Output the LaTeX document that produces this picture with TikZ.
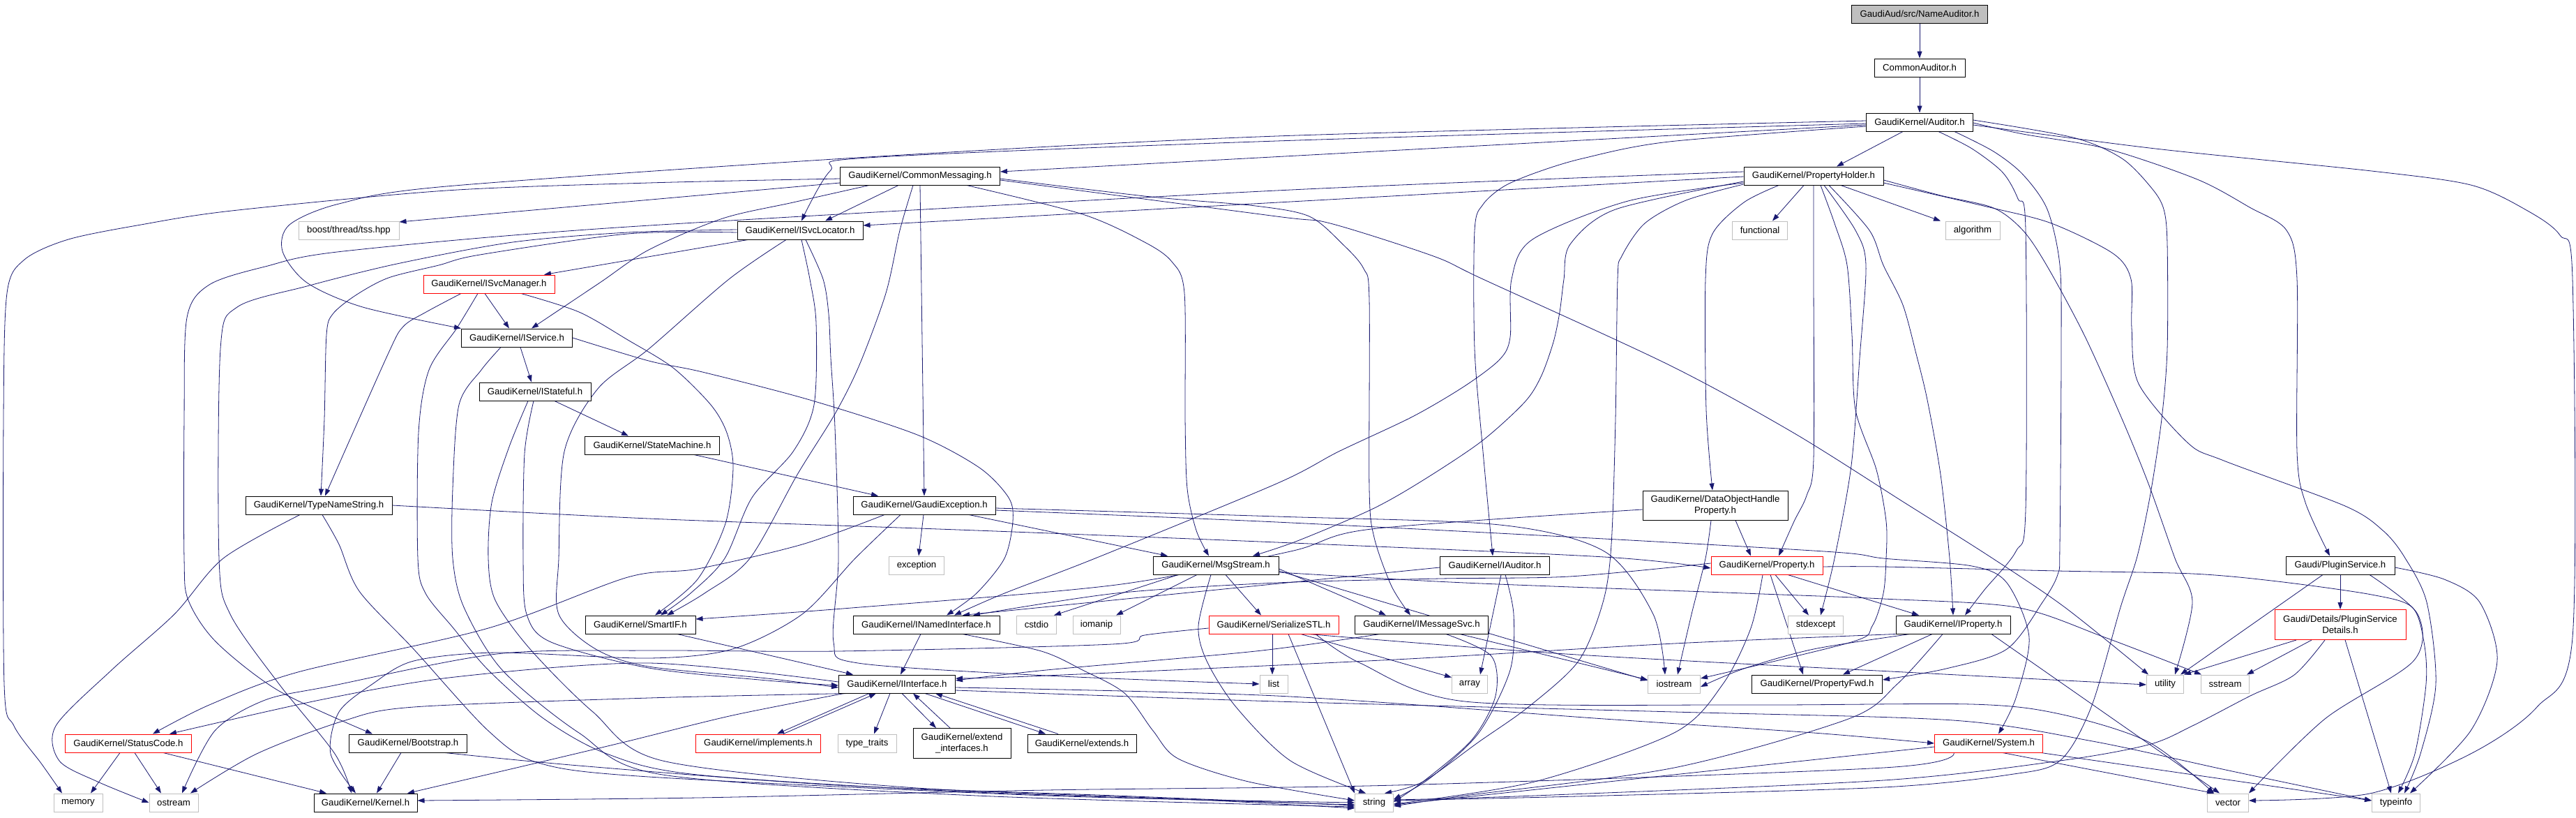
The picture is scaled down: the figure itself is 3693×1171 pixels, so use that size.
\documentclass[tikz,border=0pt]{standalone}
\usepackage{fontspec}
\setmainfont{Liberation Sans}
\usetikzlibrary{arrows.meta}
\definecolor{edgec}{RGB}{25,25,112}
\definecolor{grayb}{RGB}{191,191,191}
\pgfdeclarelayer{bg}
\pgfdeclarelayer{paper}
\pgfsetlayers{paper,bg,main}
\begin{document}
\begin{tikzpicture}[x=1pt,y=-1pt,
 box/.style={draw=black,line width=1pt,inner sep=0pt,minimum height=26pt,align=center,fill=white,font=\fontsize{13.2pt}{15.5pt}\selectfont},
 rbox/.style={box,draw=red},
 gbox/.style={box,draw=grayb},
 edge/.style={draw=edgec,line width=0.8pt,-{Triangle[length=10pt,width=7pt]}},
 sm/.style={smooth,tension=0.5}]
\useasboundingbox (0,0) rectangle (3693,1171);
\begin{pgfonlayer}{paper}
\fill[white] (0,0) rectangle (3693,1171);
\end{pgfonlayer}
% nodes
\node[box,fill=grayb,minimum width=195pt] (nameaud) at (2752,20) {GaudiAud/src/NameAuditor.h};
\node[box,minimum width=130pt] (commonaud) at (2752,97) {CommonAuditor.h};
\node[box,minimum width=153pt] (auditor) at (2752,175) {GaudiKernel/Auditor.h};
\node[box,minimum width=229pt] (commsg) at (1319,252) {GaudiKernel/CommonMessaging.h};
\node[box,minimum width=200pt] (propholder) at (2600,252) {GaudiKernel/PropertyHolder.h};
\node[gbox,minimum width=144pt] (boost) at (500,330) {boost/thread/tss.hpp};
\node[box,minimum width=180pt] (isvcloc) at (1147,330) {GaudiKernel/ISvcLocator.h};
\node[gbox,minimum width=79pt] (functional) at (2523,330) {functional};
\node[gbox,minimum width=78pt] (algorithm) at (2828,330) {algorithm};
\node[rbox,minimum width=188pt] (isvcmgr) at (701,407) {GaudiKernel/ISvcManager.h};
\node[box,minimum width=159pt] (iservice) at (741,484) {GaudiKernel/IService.h};
\node[box,minimum width=160pt] (istateful) at (767,561) {GaudiKernel/IStateful.h};
\node[box,minimum width=193pt] (statemachine) at (935,638) {GaudiKernel/StateMachine.h};
\node[box,minimum width=210pt] (typename) at (457,724) {GaudiKernel/TypeNameString.h};
\node[box,minimum width=204pt] (gaudiexc) at (1325,724) {GaudiKernel/GaudiException.h};
\node[box,minimum width=208pt,minimum height=42pt] (dohp) at (2459,724) {GaudiKernel/DataObjectHandle\\Property.h};
\node[box,minimum width=157pt] (iauditor) at (2143,810) {GaudiKernel/IAuditor.h};
\node[rbox,minimum width=160pt] (property) at (2533,810) {GaudiKernel/Property.h};
\node[box,minimum width=156pt] (pluginsvc) at (3355,810) {Gaudi/PluginService.h};
\node[box,minimum width=180pt] (msgstream) at (1743,810) {GaudiKernel/MsgStream.h};
\node[gbox,minimum width=79pt] (exception) at (1314,810) {exception};
\node[box,minimum width=158pt] (smartif) at (918,895) {GaudiKernel/SmartIF.h};
\node[box,minimum width=210pt] (inamed) at (1328,895) {GaudiKernel/INamedInterface.h};
\node[gbox,minimum width=57pt] (cstdio) at (1486,895) {cstdio};
\node[gbox,minimum width=68pt] (iomanip) at (1572,895) {iomanip};
\node[rbox,minimum width=186pt] (serialize) at (1826,895) {GaudiKernel/SerializeSTL.h};
\node[box,minimum width=191pt] (imsgsvc) at (2038,895) {GaudiKernel/IMessageSvc.h};
\node[gbox,minimum width=79pt] (stdexcept) at (2603,895) {stdexcept};
\node[box,minimum width=164pt] (iproperty) at (2800,895) {GaudiKernel/IProperty.h};
\node[rbox,minimum width=188pt,minimum height=43pt] (psdetails) at (3355,895) {Gaudi/Details/PluginService\\Details.h};
\node[box,minimum width=167pt] (iinterface) at (1286,980) {GaudiKernel/IInterface.h};
\node[gbox,minimum width=40pt] (list) at (1826,980) {list};
\node[gbox,minimum width=51pt] (array) at (2107,980) {array};
\node[gbox,minimum width=75pt] (iostream) at (2400,980) {iostream};
\node[box,minimum width=187pt] (propfwd) at (2605,980) {GaudiKernel/PropertyFwd.h};
\node[gbox,minimum width=53pt] (utility) at (3104,980) {utility};
\node[gbox,minimum width=69pt] (sstream) at (3190,980) {sstream};
\node[rbox,minimum width=181pt] (statuscode) at (184,1065) {GaudiKernel/StatusCode.h};
\node[box,minimum width=169pt] (bootstrap) at (585,1065) {GaudiKernel/Bootstrap.h};
\node[rbox,minimum width=179pt] (implements) at (1087,1065) {GaudiKernel/implements.h};
\node[gbox,minimum width=84pt] (typetraits) at (1243,1065) {type\_traits};
\node[box,minimum width=140pt,minimum height=43pt] (extendif) at (1379,1065) {GaudiKernel/extend\\\_interfaces.h};
\node[box,minimum width=156pt] (extends) at (1551,1065) {GaudiKernel/extends.h};
\node[rbox,minimum width=155pt] (system) at (2851,1065) {GaudiKernel/System.h};
\node[gbox,minimum width=70pt] (memory) at (112,1150) {memory};
\node[gbox,minimum width=70pt] (ostream) at (249,1150) {ostream};
\node[box,minimum width=148pt] (kernel) at (524,1150) {GaudiKernel/Kernel.h};
\node[gbox,minimum width=55pt] (string) at (1970,1150) {string};
\node[gbox,minimum width=59pt] (vector) at (3194,1150) {vector};
\node[gbox,minimum width=69pt] (typeinfo) at (3435,1150) {typeinfo};
% edges
\begin{pgfonlayer}{bg}
\draw[edge] (nameaud) -- (commonaud);
\draw[edge] (commonaud) -- (auditor);
% Auditor
\draw[edge] ([yshift=-4pt]auditor.west) -- ([yshift=6pt]commsg.east);
\draw[edge] ([xshift=-24pt]auditor.south) -- ([xshift=33pt]propholder.north);
\draw[edge] plot[sm] coordinates {([yshift=-2pt]auditor.west) (1830,202) (1244,226) (1190,245) ([xshift=2pt]isvcloc.north)};
\draw[edge] plot[sm] coordinates {([yshift=2pt]auditor.west) (1830,195) (1244,225) (640,267) (486,292) (415,322) (405,360) (440,405) (520,440) (iservice.north west)};
\draw[edge] plot[sm] coordinates {([yshift=-6pt]auditor.west) (2393,203) (2269,227) (2203,247) (2156,267) (2126,293) (2114,330) (2114,500) (2126,647) ([xshift=-3pt]iauditor.north)};
\draw[edge] plot[sm] coordinates {([xshift=27pt]auditor.south) (2827,213) (2871,247) (2893,285) (2904,330) (2904,730) (2890,790) (2845,845) ([xshift=17pt]iproperty.north)};
\draw[edge] plot[sm] coordinates {([xshift=50pt]auditor.south) (2858,217) (2900,250) (2935,300) (2953,380) (2955,500) (2953,780) (2950,823) (2928,863) (2877,930) (2790,958) ([yshift=6pt]propfwd.east)};
\draw[edge] plot[sm] coordinates {([yshift=3pt]auditor.east) (2972,197) (3042,227) (3085,270) (3102,300) (3107,350) (3107,500) (3099,600) (3083,707) (3064,797) (3040,870) (2998,1013) (2953,1090) (2880,1110) (2700,1128) (2300,1140) ([yshift=3pt]string.east)};
\draw[edge] plot[sm] coordinates {([yshift=-1pt]auditor.east) (2900,192) (3020,213) (3150,257) (3225,297) (3278,330) (3293,400) (3293,647) (3305,720) ([xshift=-15pt]pluginsvc.north)};
\draw[edge] plot[sm] coordinates {([yshift=-4pt]auditor.east) (3090,213) (3400,245) (3542,265) (3620,300) (3670,337) (3688,400) (3688,913) (3637,1013) (3542,1080) (3397,1137) ([yshift=3pt]vector.east)};
% CommonMessaging
\draw[edge] ([yshift=-10pt]commsg.west) -- ([yshift=12pt]boost.east);
\draw[edge] plot[sm] coordinates {([yshift=-4pt]commsg.west) (930,262) (640,273) (332,302) (202,322) (98,343) (35,372) (10,420) (5,600) (6,980) (20,1040) (60,1095) ([xshift=-23pt]memory.north)};
\draw[edge] ([xshift=-31pt]commsg.south) -- ([xshift=36pt]isvcloc.north);
\draw[edge] plot[sm] coordinates {([xshift=-73pt]commsg.south) (1137,290) (1036,313) (930,358) (860,405) ([xshift=21pt]iservice.north)};
\draw[edge] plot[sm] coordinates {([xshift=-10pt]commsg.south) (1290,330) (1270,420) (1232,523) (1197,593) (1143,680) (1075,800) (1010,850) ([xshift=38pt]smartif.north)};
\draw[edge] (commsg.south) -- (gaudiexc.north);
\draw[edge] plot[sm] coordinates {([xshift=67pt]commsg.south) (1552,307) (1641,347) (1680,375) (1698,420) (1699,600) (1702,700) (1715,760) ([xshift=-10pt]msgstream.north)};
\draw[edge] plot[sm] coordinates {([yshift=-4pt]commsg.east) (1650,282) (1800,295) (1877,310) (1925,350) (1955,385) (1963,430) (1963,700) (1970,770) (1995,840) ([xshift=-16pt]imsgsvc.north)};
\draw[edge] plot[sm] coordinates {([yshift=-6pt]commsg.east) (1830,310) (1907,320) (2055,367) (2126,400) (2393,523) (2571,620) (2730,720) (2852,797) (2960,870) ([xshift=-24pt]utility.north)};
% PropertyHolder
\draw[edge] ([yshift=-1pt]propholder.west) -- ([yshift=7pt]isvcloc.east);
\draw[edge] plot[sm] coordinates {([yshift=6pt]propholder.west) (1830,273) (900,325) (492,360) (380,382) (300,408) (268,455) (264,600) (264,800) (270,860) (310,920) (400,990) ([xshift=-51pt]bootstrap.north)};
\draw[edge] ([xshift=-14pt]propholder.south) -- ([xshift=18pt]functional.north);
\draw[edge] ([xshift=39pt]propholder.south) -- ([xshift=-46pt]algorithm.north);
\draw[edge] plot[sm] coordinates {([yshift=-10pt]propholder.west) (2334,288) (2197,343) (2167,400) (2165,483) (2150,515) (2100,553) (2025,597) (1919,647) (1830,693) (1570,800) (1440,850) ([xshift=40pt]inamed.north)};
\draw[edge] plot[sm] coordinates {([yshift=-8pt]propholder.west) (2316,300) (2251,350) (2242,400) (2236,447) (2227,490) (2209,540) (2185,577) (2123,633) (2037,690) (1966,730) (1860,775) ([xshift=53pt]msgstream.north)};
\draw[edge] plot[sm] coordinates {([xshift=-50pt]propholder.south) (2500,290) (2455,335) (2445,400) (2446,587) ([xshift=-4pt]dohp.north)};
\draw[edge] plot[sm] coordinates {(propholder.south) (2600,400) (2600,657) (2590,710) (2572,747) ([xshift=17pt]property.north)};
\draw[edge] plot[sm] coordinates {([xshift=10pt]propholder.south) (2630,320) (2648,380) (2655,480) (2660,587) (2690,673) (2704,747) (2704,800) (2700,850) (2684,897) (2654,920) ([yshift=8pt]iostream.east)};
\draw[edge] plot[sm] coordinates {([xshift=15pt]propholder.south) (2660,330) (2675,380) (2666,513) (2654,667) (2630,800) ([xshift=7pt]stdexcept.north)};
\draw[edge] plot[sm] coordinates {([xshift=22pt]propholder.south) (2680,330) (2700,380) (2728,437) (2747,507) (2763,573) (2782,680) (2795,800) (iproperty.north)};
\draw[edge] plot[sm] coordinates {([yshift=-12pt]propholder.west) (2417,287) (2358,320) (2325,367) (2319,400) (2316,600) (2310,780) (2298,863) (2263,947) (2191,1013) (2120,1063) (2040,1120) ([xshift=15pt]string.north)};
\draw[edge] plot[sm] coordinates {([yshift=-6pt]propholder.east) (2782,280) (2858,298) (2900,330) (2934,380) (2988,480) (3042,600) (3080,693) (3118,800) (3143,863) ([xshift=14pt]utility.north)};
\draw[edge] plot[sm] coordinates {([yshift=-10pt]propholder.east) (2852,297) (2941,320) (3029,363) (3055,400) (3056,470) (3066,550) (3137,635) (3188,660) (3362,725) (3416,760) (3447,798) (3479,863) (3492,980) (3470,1080) ([xshift=12pt]typeinfo.north)};
% ISvcLocator
\draw[edge] ([xshift=-75pt]isvcloc.south) -- ([xshift=79pt]isvcmgr.north);
\draw[edge] plot[sm] coordinates {([yshift=-3pt]isvcloc.west) (900,335) (688,365) (629,380) (557,398) (510,423) (477,450) (468,480) (465,600) ([xshift=3pt]typename.north)};
\draw[edge] plot[sm] coordinates {([yshift=1pt]isvcloc.west) (900,333) (735,347) (569,378) (440,410) (340,440) (316,500) (314,800) (330,880) (400,980) (480,1080) ([xshift=-20pt]kernel.north)};
\draw[edge] plot[sm] coordinates {([xshift=2pt]isvcloc.south) (1161,400) (1170,463) (1167,580) (1137,647) (1078,713) (1039,800) (990,850) ([xshift=29pt]smartif.north)};
\draw[edge] plot[sm] coordinates {([xshift=8pt]isvcloc.south) (1180,400) (1188,450) (1191,513) (1197,613) (1202,800) (1195,920) (1230,950) (1500,968) (list.west)};
\draw[edge] plot[sm] coordinates {([xshift=-20pt]isvcloc.south) (1045,400) (930,500) (857,557) (809,647) (801,800) (801,880) (854,930) (930,955) (1100,972) ([yshift=-5pt]iinterface.west)};
% ISvcManager
\draw[edge] ([xshift=-6pt]isvcmgr.south) -- ([xshift=-11pt]iservice.north);
\draw[edge] plot[sm] coordinates {([xshift=-40pt]isvcmgr.south) (611,447) (578,468) (555,510) ([xshift=9pt]typename.north)};
\draw[edge] plot[sm] coordinates {([xshift=-16pt]isvcmgr.south) (655,470) (615,530) (600,620) (599,800) (610,850) (650,900) (700,960) (780,1030) (870,1080) (1000,1110) (1400,1135) ([yshift=-3pt]string.west)};
\draw[edge] plot[sm] coordinates {([xshift=46pt]isvcmgr.south) (830,447) (900,487) (965,527) (1019,580) (1042,620) (1051,670) (1040,750) (1000,830) ([xshift=21pt]smartif.north)};
% IService, IStateful, StateMachine
\draw[edge] ([xshift=5pt]iservice.south) -- ([xshift=-5pt]istateful.north);
\draw[edge] plot[sm] coordinates {(iservice.east) (930,517) (1007,533) (1161,573) (1315,623) (1404,670) (1446,713) (1452,747) (1440,800) (1400,850) ([xshift=29pt]inamed.north)};
\draw[edge] plot[sm] coordinates {([xshift=-23pt]iservice.south) (690,530) (658,580) (649,700) (649,800) (665,870) (720,960) (830,1050) (950,1110) (1400,1140) ([yshift=-6pt]string.west)};
\draw[edge] ([xshift=28pt]istateful.south) -- ([xshift=-34pt]statemachine.north);
\draw[edge] plot[sm] coordinates {([xshift=-2pt]istateful.south) (752,650) (750,800) (755,880) (790,920) (930,957) (1100,975) ([yshift=-2pt]iinterface.west)};
\draw[edge] plot[sm] coordinates {([xshift=-10pt]istateful.south) (730,640) (705,720) (700,800) (710,860) (760,930) (850,1020) (950,1090) (1300,1128) (1700,1145) ([yshift=-8pt]string.west)};
\draw[edge] ([xshift=60pt]statemachine.south) -- ([xshift=-66pt]gaudiexc.north);
% TypeNameString
\draw[edge] plot[sm] coordinates {(typename.east) (930,743) (1400,760) (1830,777) (2300,798) ([yshift=-4pt]property.west)};
\draw[edge] plot[sm] coordinates {([xshift=-27pt]typename.south) (320,800) (250,880) (160,960) (80,1040) (85,1090) (140,1120) (ostream.west)};
\draw[edge] plot[sm] coordinates {([xshift=5pt]typename.south) (486,780) (515,847) (593,930) (700,1047) (772,1093) (930,1113) (1500,1140) ([yshift=0pt]string.west)};
% GaudiException
\draw[edge] ([xshift=-1pt]gaudiexc.south) -- ([xshift=3pt]exception.north);
\draw[edge] ([xshift=64pt]gaudiexc.south) -- ([xshift=-69pt]msgstream.north);
\draw[edge] plot[sm] coordinates {([xshift=-57pt]gaudiexc.south) (1150,780) (1000,815) (900,827) (700,900) (427,963) (300,1010) ([xshift=35pt]statuscode.north)};
\draw[edge] plot[sm] coordinates {([xshift=-34pt]gaudiexc.south) (1226,800) (1150,880) (1050,930) (930,943) (712,935) (593,947) (534,980) (486,1020) (474,1080) ([xshift=-14pt]kernel.north)};
\draw[edge] plot[sm] coordinates {([yshift=-4pt]gaudiexc.east) (1830,740) (2150,752) (2300,790) (2370,880) ([xshift=-13pt]iostream.north)};
\draw[edge] plot[sm] coordinates {([yshift=-7pt]gaudiexc.east) (1830,748) (2300,772) (2630,791) (2700,800) (2827,811) (2877,835) (2909,913) (2890,1000) ([xshift=14pt]system.north)};
% DataObjectHandleProperty
\draw[edge] ([xshift=29pt]dohp.south) -- ([xshift=-23pt]property.north);
\draw[edge] plot[sm] coordinates {([xshift=-6pt]dohp.south) (2445,800) (2425,880) ([xshift=5pt]iostream.north)};
\draw[edge] plot[sm] coordinates {([yshift=-6pt]dohp.west) (1966,758) (1850,790) (1600,838) (1208,872) ([yshift=8pt]smartif.east)};
% IAuditor
\draw[edge] ([yshift=-3pt]iauditor.west) -- ([xshift=52pt]inamed.north);
\draw[edge] ([xshift=9pt]iauditor.south) -- ([xshift=15pt]array.north);
\draw[edge] plot[sm] coordinates {([xshift=15pt]iauditor.south) (2170,880) (2165,960) (2120,1050) (2050,1115) ([yshift=5pt]string.east)};
% Property
\draw[edge] ([xshift=30pt]property.south) -- ([xshift=-49pt]iproperty.north);
\draw[edge] ([xshift=5pt]property.south) -- ([xshift=-20pt]propfwd.north);
\draw[edge] ([xshift=12pt]property.south) -- ([xshift=-10pt]stdexcept.north);
\draw[edge] plot[sm] coordinates {([xshift=-6pt]property.south) (2510,900) (2470,980) (2400,1050) (2200,1120) ([yshift=-2pt]string.east)};
\draw[edge] plot[sm] coordinates {([yshift=3pt]property.west) (2250,826) (2065,829) (1830,835) (1600,850) ([xshift=67pt]inamed.north)};
\draw[edge] plot[sm] coordinates {([yshift=-2pt]property.east) (2700,812) (2950,818) (3143,822) (3265,833) (3400,852) (3458,870) (3475,920) (3478,980) (3462,1080) ([xshift=3pt]typeinfo.north)};
% PluginService
\draw[edge] (pluginsvc.south) -- (psdetails.north);
\draw[edge] ([xshift=-25pt]pluginsvc.south) -- ([xshift=22pt]utility.north);
\draw[edge] plot[sm] coordinates {([xshift=42pt]pluginsvc.south) (3466,880) (3460,947) (3333,1030) (vector.north east)};
\draw[edge] plot[sm] coordinates {([yshift=-3pt]pluginsvc.east) (3504,830) (3555,863) (3580,947) (3542,1047) ([xshift=20pt]typeinfo.north)};
\draw[edge] ([xshift=-63pt]psdetails.south) -- (utility.north east);
\draw[edge] ([xshift=-41pt]psdetails.south) -- ([xshift=31pt]sstream.north);
\draw[edge] plot[sm] coordinates {([xshift=-22pt]psdetails.south) (3289,967) (3226,997) (3143,1040) (3080,1067) (2953,1090) (2700,1118) (2200,1140) ([yshift=4pt]string.east)};
\draw[edge] ([xshift=7pt]psdetails.south) -- ([xshift=-7pt]typeinfo.north);
% MsgStream
\draw[edge] ([xshift=-54pt]msgstream.south) -- ([xshift=25pt]cstdio.north);
\draw[edge] ([xshift=-27pt]msgstream.south) -- ([xshift=28pt]iomanip.north);
\draw[edge] ([xshift=14pt]msgstream.south) -- ([xshift=-18pt]serialize.north);
\draw[edge] ([yshift=-5pt]msgstream.east) -- ([xshift=-51pt]imsgsvc.north);
\draw[edge] ([yshift=-8pt]msgstream.east) -- ([yshift=5pt]iostream.west);
\draw[edge] plot[sm] coordinates {([xshift=-7pt]msgstream.south) (1718,897) (1730,947) (1772,1013) (1850,1090) ([xshift=-12pt]string.north)};
\draw[edge] plot[sm] coordinates {([yshift=-10pt]msgstream.east) (2100,835) (2500,850) (2700,858) (2890,870) (3017,913) ([xshift=-34pt]sstream.north)};
% SerializeSTL
\draw[edge] ([xshift=-2pt]serialize.south) -- ([xshift=-2pt]list.north);
\draw[edge] ([xshift=39pt]serialize.south) -- (array.160);
\draw[edge] ([xshift=21pt]serialize.south) -- (string.north west);
\draw[edge] plot[sm] coordinates {([yshift=-5pt]serialize.west) (1641,910) (1594,923) (1200,933) (930,932) (712,937) (474,983) (380,1003) (308,1047) ([xshift=12pt]ostream.north)};
\draw[edge] plot[sm] coordinates {([xshift=50pt]serialize.south) (2245,937) (2730,963) ([yshift=-1pt]utility.west)};
\draw[edge] plot[sm] coordinates {([xshift=60pt]serialize.south) (1950,950) (2100,1005) (2500,1010) (2827,1009) (2953,1023) (3080,1063) ([xshift=-20pt]vector.north)};
% IMessageSvc
\draw[edge] plot[sm] coordinates {([xshift=-60pt]imsgsvc.south) (1800,933) (1500,960) ([yshift=5pt]iinterface.east)};
\draw[edge] ([xshift=55pt]imsgsvc.south) -- ([yshift=6pt]iostream.west);
\draw[edge] plot[sm] coordinates {([xshift=35pt]imsgsvc.south) (2138,940) (2144,997) (2110,1060) (2040,1120) ([yshift=1pt]string.east)};
% INamedInterface, SmartIF
\draw[edge] ([xshift=-8pt]inamed.south) -- ([xshift=5pt]iinterface.north);
\draw[edge] plot[sm] coordinates {([xshift=52pt]inamed.south) (1493,933) (1552,960) (1612,993) (1653,1047) (1689,1087) (1790,1120) ([yshift=3pt]string.west)};
\draw[edge] ([xshift=53pt]smartif.south) -- ([xshift=-63pt]iinterface.north);
% IProperty
\draw[edge] plot[sm] coordinates {(iproperty.south west) (2400,922) (2000,945) (1500,968) ([yshift=8pt]iinterface.east)};
\draw[edge] plot[sm] coordinates {([xshift=-62pt]iproperty.south) (2600,930) (2500,958) ([yshift=-4pt]iostream.east)};
\draw[edge] ([xshift=-30pt]iproperty.south) -- ([xshift=37pt]propfwd.north);
\draw[edge] plot[sm] coordinates {([xshift=-15pt]iproperty.south) (2720,980) (2650,1030) (2400,1100) (2100,1140) ([yshift=-5pt]string.east)};
\draw[edge] ([xshift=55pt]iproperty.south) -- ([xshift=-12pt]vector.north);
% IInterface
\draw[edge] ([xshift=-40pt]iinterface.south) -- ([xshift=27pt]implements.north);
\draw[edge] ([xshift=36pt]implements.north) -- ([xshift=-30pt]iinterface.south);
\draw[edge] ([xshift=-10pt]iinterface.south) -- ([xshift=10pt]typetraits.north);
\draw[edge] ([xshift=7pt]iinterface.south) -- ([xshift=-37pt]extendif.north);
\draw[edge] ([xshift=-17pt]extendif.north) -- ([xshift=23pt]iinterface.south);
\draw[edge] ([xshift=40pt]iinterface.south) -- ([xshift=-52pt]extends.north);
\draw[edge] ([xshift=-34pt]extends.north) -- ([xshift=55pt]iinterface.south);
\draw[edge] plot[sm] coordinates {([yshift=3pt]iinterface.west) (930,950) (652,970) (463,1002) ([xshift=59pt]statuscode.north)};
\draw[edge] plot[sm] coordinates {([xshift=-70pt]iinterface.south) (930,1000) (593,1013) (492,1033) (368,1080) ([xshift=24pt]ostream.north)};
\draw[edge] plot[sm] coordinates {([xshift=-76pt]iinterface.south) (1050,1025) (900,1062) (753,1097) ([xshift=60pt]kernel.north)};
\draw[edge] plot[sm] coordinates {([yshift=-5pt]iinterface.east) (1830,997) (2300,1030) (2600,1050) (system.west)};
\draw[edge] plot[sm] coordinates {([yshift=-9pt]iinterface.east) (1830,1005) (2400,1020) (2800,1032) (3000,1062) (3200,1105) ([yshift=3pt]typeinfo.west)};
% StatusCode, Bootstrap, System
\draw[edge] ([xshift=-12pt]statuscode.south) -- ([xshift=18pt]memory.north);
\draw[edge] ([xshift=9pt]statuscode.south) -- ([xshift=-18pt]ostream.north);
\draw[edge] ([xshift=50pt]statuscode.south) -- ([xshift=-56pt]kernel.north);
\draw[edge] ([xshift=-10pt]bootstrap.south) -- ([xshift=16pt]kernel.north);
\draw[edge] plot[sm] coordinates {([xshift=53pt]bootstrap.south) (830,1097) (1200,1125) (1600,1140) ([yshift=-4pt]string.west)};
\draw[edge] plot[sm] coordinates {([xshift=-50pt]system.south) (2700,1100) (2000,1125) (1500,1132) (1000,1143) ([yshift=3pt]kernel.east)};
\draw[edge] ([yshift=-5pt]system.west) -- ([yshift=-3pt]string.east);
\draw[edge] ([xshift=20pt]system.south) -- ([xshift=-20pt]vector.north);
\draw[edge] ([xshift=75pt]system.south) -- ([yshift=3pt]typeinfo.west);
\end{pgfonlayer}
\end{tikzpicture}
\end{document}
